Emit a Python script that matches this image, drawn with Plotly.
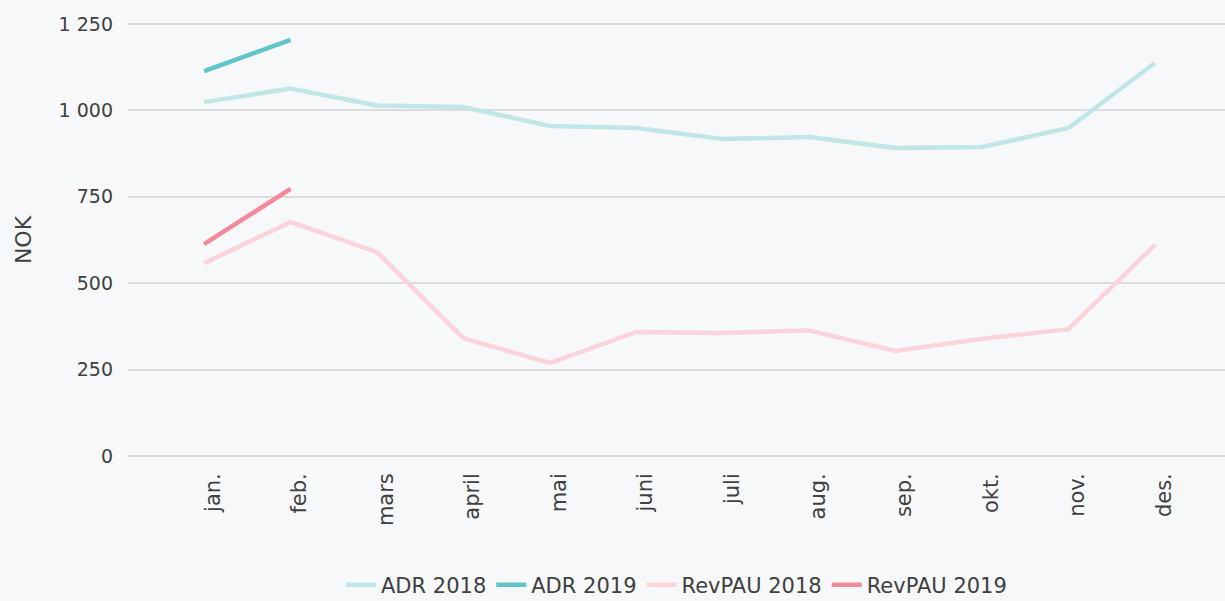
import plotly.graph_objects as go

months = ["jan.", "feb.", "mars", "april", "mai", "juni", "juli", "aug.", "sep.", "okt.", "nov.", "des."]
adr_2018 = [1024, 1063, 1014, 1010, 955, 949, 917, 923, 891, 894, 949, 1137]
adr_2019 = [1114, 1204]
revpau_2018 = [558, 677, 590, 341, 269, 359, 356, 363, 304, 339, 367, 611]
revpau_2019 = [613, 773]

series = [
    ("ADR 2018", months, adr_2018, "#c0e6e7"),
    ("ADR 2019", months[:2], adr_2019, "#5fc5c8"),
    ("RevPAU 2018", months, revpau_2018, "#fbd3da"),
    ("RevPAU 2019", months[:2], revpau_2019, "#f3899b"),
]

fig = go.Figure()
for name, x, y, c in series:
    fig.add_trace(go.Scatter(x=x, y=y, name=name, mode="lines",
                             line=dict(color=c, width=4.5)))

font_family = "DejaVu Sans, sans-serif"
fig.update_layout(
    width=1225, height=601,
    paper_bgcolor="#f7f8fa", plot_bgcolor="#f7f8fa",
    margin=dict(l=128, r=0, t=20, b=141, autoexpand=False),
    font=dict(family=font_family, size=19, color="#404040"),
    separators=", ",
    showlegend=True,
    legend=dict(orientation="h", x=0.5, xanchor="center", xref="paper",
                y=(601 - 585) / 601, yanchor="middle", yref="container",
                font=dict(size=21, color="#404040"), itemwidth=30, tracegroupgap=0),
    xaxis=dict(type="category", categoryorder="array", categoryarray=months,
               range=[-0.88, 11.81], tickangle=-90, showgrid=False, automargin=False,
               showline=False, zeroline=False, ticks="", tickfont=dict(size=21),
               ticklabelstandoff=8, ticklabelshift=9),
    yaxis=dict(range=[-11.6, 1261.6], tickvals=[0, 250, 500, 750, 1000, 1250],
               tickformat=",d", showgrid=True, gridcolor="#dcdcdc", gridwidth=2,
               zeroline=False, showline=False, ticks="", ticklen=0, automargin=False,
               ticklabelstandoff=14,
               tickfont=dict(size=19),
               title=dict(text="NOK", font=dict(size=22), standoff=20)),
)
fig.write_html("out.html", post_script="document.body.style.margin='0';",
               config={"displayModeBar": False})
